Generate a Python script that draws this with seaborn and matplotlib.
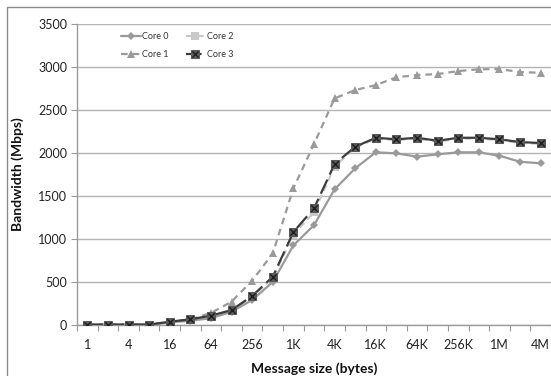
import matplotlib
matplotlib.use("Agg")
import matplotlib.pyplot as plt
import seaborn as sns
import pandas as pd
import numpy as np
from matplotlib.patches import Rectangle
from matplotlib.legend_handler import HandlerTuple
from matplotlib.lines import Line2D

sizes = ["1", "2", "4", "8", "16", "32", "64", "128", "256", "512", "1K", "2K",
         "4K", "8K", "16K", "32K", "64K", "128K", "256K", "512K", "1M", "2M", "4M"]
core0 = [3, 3, 3, 3, 30, 50, 78, 154, 290, 500, 925, 1160, 1576, 1820,
         2006, 1994, 1955, 1983, 2006, 2006, 1966, 1896, 1878]
core1 = [5, 5, 5, 5, 35, 65, 140, 271, 515, 833, 1588, 2102, 2633, 2729,
         2787, 2877, 2904, 2915, 2950, 2970, 2973, 2938, 2930]
core2 = [4, 4, 4, 4, 36, 62, 104, 168, 328, 548, 1050, 1310, 1840, 2060,
         2165, 2148, 2165, 2130, 2165, 2165, 2148, 2115, 2105]
core3 = [5, 5, 5, 5, 38, 66, 108, 174, 337, 561, 1080, 1355, 1870, 2071,
         2175, 2157, 2175, 2140, 2175, 2175, 2157, 2125, 2114]
yticks = [0, 500, 1000, 1500, 2000, 2500, 3000, 3500]

sns.set_theme(style="white")
plt.rcParams['font.family'] = ['Lato', 'DejaVu Sans']

fig = plt.figure(figsize=(5.51, 3.76), dpi=100)
ax = fig.add_axes([77/551, 1-325/376, 474/551, (325-23.7)/376])

idx = np.arange(len(sizes))
grey_mid = "#9a9a9a"

def df(vals):
    return pd.DataFrame({"x": idx, "y": vals})

# Core 2 (light, dashed)
sns.lineplot(data=df(core2), x="x", y="y", ax=ax, color="#c9c9c9", lw=1.6,
             marker="s", markersize=5.5, markeredgewidth=0, linestyle=(0, (3, 2)),
             zorder=3)
# Core 1
sns.lineplot(data=df(core1), x="x", y="y", ax=ax, color=grey_mid, lw=1.6,
             marker="^", markersize=6, markeredgewidth=0, linestyle=(0, (3, 2.2)),
             zorder=3)
# Core 0
sns.lineplot(data=df(core0), x="x", y="y", ax=ax, color=grey_mid, lw=1.6,
             marker="D", markersize=4.5, markeredgewidth=0, linestyle="-",
             zorder=4)
# Core 3 (dark, long dash, square with X)
sns.lineplot(data=df(core3), x="x", y="y", ax=ax, color="#3c3c3c", lw=1.6,
             marker="s", markersize=6, markerfacecolor="#5a5a5a",
             markeredgecolor="#5a5a5a", linestyle=(0, (7, 2.5)), zorder=5)
sns.scatterplot(data=df(core3), x="x", y="y", ax=ax, marker="x", s=22,
                color="#1e1e1e", linewidth=1.0, zorder=6)

lines = ax.get_lines()
l2, l1, l0, l3 = lines[0], lines[1], lines[2], lines[3]
xh = Line2D([], [], marker="x", color="#1e1e1e", linestyle="none",
            markersize=4, mew=0.9)

ax.set_xlim(-0.5, len(sizes) - 0.5)
ax.set_ylim(0, 3500)
ax.set_yticks(yticks)
ax.set_yticklabels([str(v) for v in yticks], fontsize=9, color="#222222")
ax.set_xticks(idx[::2])
ax.set_xticklabels(sizes[::2], fontsize=9, color="#222222")
ax.set_xticks(np.arange(-0.5, len(sizes), 1), minor=True)
ax.tick_params(axis="x", which="major", length=0, pad=10)
ax.tick_params(axis="x", which="minor", length=4, width=0.8, color="#9a9a9a",
               direction="out", bottom=True)
ax.tick_params(axis="y", which="major", length=4, width=0.8, color="#9a9a9a",
               direction="out", left=True, pad=3)
ax.grid(axis="y", color="#b4b4b4", lw=1.0)
ax.set_axisbelow(True)
for s in ["top", "right"]:
    ax.spines[s].set_visible(False)
for s in ["left", "bottom"]:
    ax.spines[s].set_color("#9a9a9a")
    ax.spines[s].set_linewidth(1.0)

ax.set_xlabel("Message size (bytes)", fontsize=10, fontweight="bold",
              color="#111111", labelpad=8)
ax.set_ylabel("Bandwidth (Mbps)", fontsize=10, fontweight="bold",
              color="#111111", labelpad=10)

leg = ax.legend([l0, l1, l2, (l3, xh)], ["Core 0", "Core 1", "Core 2", "Core 3"],
                ncol=2, frameon=False, fontsize=6.5, loc="upper left",
                bbox_to_anchor=(0.075, 1.0), handlelength=2.2, handletextpad=0.15,
                columnspacing=1.9, labelspacing=1.0,
                handler_map={tuple: HandlerTuple(ndivide=1, pad=0)})
for t in leg.get_texts():
    t.set_color("#333333")

fig.patches.append(Rectangle((7/551, -0.1), 1.2, 1 - 7/376 + 0.1,
                             transform=fig.transFigure, fill=False,
                             edgecolor="#8c8c8c", lw=1.0))

fig.savefig("out.png", dpi=100)
